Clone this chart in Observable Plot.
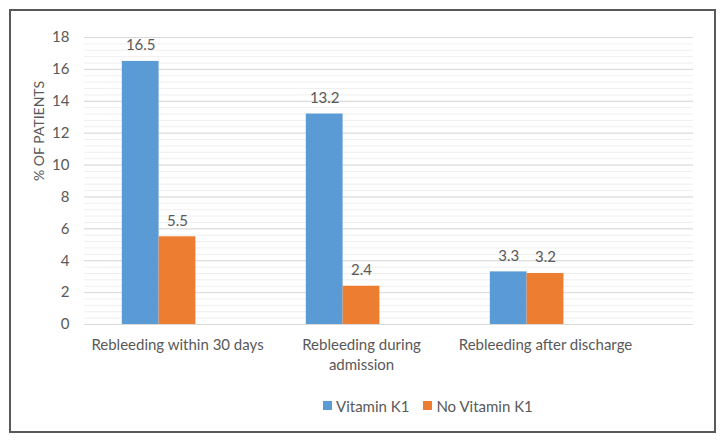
<!DOCTYPE html>
<html>
<head>
<meta charset="utf-8">
<script src="https://cdn.jsdelivr.net/npm/d3@7"></script>
<script src="https://cdn.jsdelivr.net/npm/@observablehq/plot@0.6"></script>
<style>
  html, body { margin: 0; padding: 0; background: #fff; }
  #wrap { position: relative; width: 726px; height: 444px; font-family: Lato, sans-serif; }
  #border { position: absolute; left: 9px; top: 9px; width: 707px; height: 424px; box-sizing: border-box; border: 2px solid #595959; }
  #chart { position: absolute; left: 0; top: 0; }
  #legend { position: absolute; left: 323px; top: 389px; }
  .lg-swatch { margin-right: 14px !important; color: #595959; font-size: 15px; }
  .lg-swatch > svg { margin-right: 4px !important; }
</style>
</head>
<body>
<div id="wrap">
  <div id="border"></div>
  <div id="chart"></div>
  <div id="legend"></div>
</div>
<script>
const categories = ["Rebleeding within 30 days", "Rebleeding during admission", "Rebleeding after discharge"];
const tickLabels = ["Rebleeding within 30 days", "Rebleeding during\nadmission", "Rebleeding after discharge"];
const series = ["Vitamin K1", "No Vitamin K1"];
const vitaminK1 = [16.5, 13.2, 3.3];
const noVitaminK1 = [5.5, 2.4, 3.2];
const yTicks = [0, 2, 4, 6, 8, 10, 12, 14, 16, 18];
const colors = ["#5B9BD5", "#ED7D31"];

const labelMap = new Map(categories.map((c, i) => [c, tickLabels[i]]));
const blueRows = categories.map((c, i) => ({category: c, series: series[0], value: vitaminK1[i]}));
const orangeRows = categories.map((c, i) => ({category: c, series: series[1], value: noVitaminK1[i]}));
const minorTicks = d3.range(0, 18.001, 0.4);

const band = 184;          // category band width (Excel clustered, 3 slots, gap 200%)
const w = band / 5;        // bar slot width

const chart = Plot.plot({
  width: 726,
  height: 372,
  marginLeft: 84,
  marginRight: 33,
  marginTop: 37,
  marginBottom: 48,
  style: {fontFamily: "Lato, sans-serif", fontSize: "15px", color: "#595959", background: "transparent"},
  x: {type: "band", domain: categories, range: [84.5, 84.5 + 3 * band], padding: 0},
  y: {domain: [0, 18], ticks: yTicks},
  marks: [
    Plot.ruleY(minorTicks, {stroke: "#efefef", strokeWidth: 1}),
    Plot.ruleY(yTicks, {stroke: "#d9d9d9", strokeWidth: 1}),
    Plot.barY(blueRows, {x: "category", y: "value", fill: colors[0], insetLeft: w, insetRight: 3 * w}),
    Plot.barY(orangeRows, {x: "category", y: "value", fill: colors[1], insetLeft: 2 * w, insetRight: 2 * w}),
    Plot.text(blueRows, {x: "category", y: "value", text: d => d.value.toFixed(1), dx: -w, dy: -16, fill: "#595959", fontSize: 15}),
    Plot.text(orangeRows, {x: "category", y: "value", text: d => d.value.toFixed(1), dx: 0, dy: -16, fill: "#595959", fontSize: 15}),
    Plot.axisY({ticks: yTicks, tickSize: 0, tickPadding: 15, label: null, fontSize: 15}),
    Plot.axisX({tickSize: 0, tickPadding: 12, label: null, tickFormat: d => labelMap.get(d), lineHeight: 1.3, fontSize: 15}),
    Plot.text(["% OF PATIENTS"], {frameAnchor: "left", rotate: -90, dx: -45, fill: "#595959", fontSize: 14})
  ]
});
document.getElementById("chart").appendChild(chart);

const legend = Plot.legend({
  color: {type: "ordinal", domain: series, range: colors},
  swatchSize: 9,
  className: "lg",
  style: {fontFamily: "Lato, sans-serif", fontSize: "15px", color: "#595959"}
});
document.getElementById("legend").appendChild(legend);
</script>
</body>
</html>
